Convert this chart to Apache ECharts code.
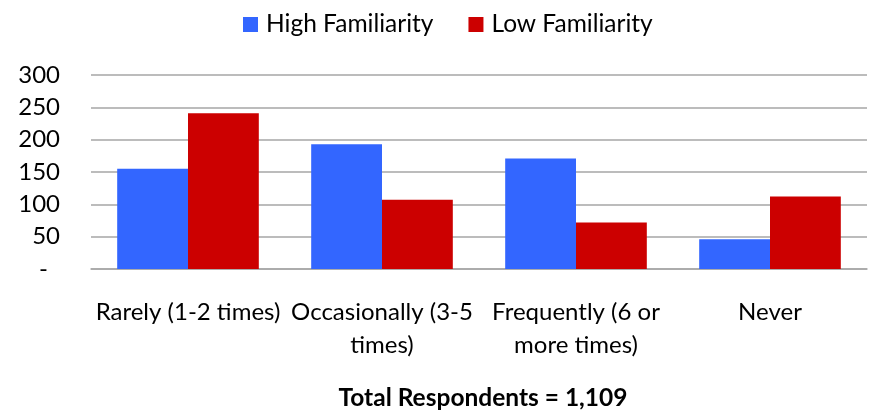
<!DOCTYPE html>
<html><head><meta charset="utf-8">
<script src="https://cdn.jsdelivr.net/npm/echarts@6/dist/echarts.min.js"></script>
<style>html,body{margin:0;padding:0;background:#fff}#c{width:872px;height:411px}</style>
</head><body><div id="c"></div>
<script>
const categories = ['Rarely (1-2 times)', 'Occasionally (3-5\ntimes)', 'Frequently (6 or\nmore times)', 'Never'];
const highFamiliarity = [155, 193, 171, 46];
const lowFamiliarity = [241, 107, 72, 112];
const seriesNames = ['High Familiarity', 'Low Familiarity'];
const titleText = 'Total Respondents = 1,109';

const FONT = 'Lato, "Open Sans", sans-serif';
const chart = echarts.init(document.getElementById('c'), null, {renderer: 'canvas'});
chart.setOption({
  animation: false,
  backgroundColor: '#ffffff',
  color: ['#3366FF', '#CC0000'],
  title: {
    text: titleText,
    left: 478, top: 381,
    textAlign: 'center',
    textStyle: {fontFamily: FONT, fontSize: 24.5, fontWeight: 'bold', color: '#000'}
  },
  legend: {
    data: seriesNames,
    top: 7, left: 238,
    itemWidth: 15, itemHeight: 15, itemGap: 35,
    icon: 'rect',
    textStyle: {fontFamily: FONT, fontSize: 24.5, color: '#000', padding: [0, 0, 0, 3]}
  },
  grid: {left: 91, right: 5, top: 75, bottom: 142, containLabel: false},
  xAxis: {
    type: 'category',
    data: categories,
    axisLine: {show: true, lineStyle: {color: '#a6a6a6', width: 1.5}},
    axisTick: {show: false},
    axisLabel: {interval: 0, margin: 27, fontFamily: FONT, fontSize: 24, lineHeight: 33, color: '#000'}
  },
  yAxis: {
    type: 'value',
    min: 0, max: 300, interval: 50,
    axisLine: {show: false},
    axisTick: {show: false},
    splitLine: {lineStyle: {color: '#a6a6a6', width: 1.5}},
    axisLabel: {
      margin: 31, fontFamily: FONT, fontSize: 24, color: '#000',
      formatter: v => v === 0 ? '{d|-}' : String(v),
      rich: {d: {fontFamily: FONT, fontSize: 24, color: '#000', padding: [0, 12, 0, 0]}}
    }
  },
  series: [
    {name: seriesNames[0], type: 'bar', data: highFamiliarity, barGap: '0%', barCategoryGap: '27%'},
    {name: seriesNames[1], type: 'bar', data: lowFamiliarity, barGap: '0%', barCategoryGap: '27%'}
  ]
});
</script></body></html>
